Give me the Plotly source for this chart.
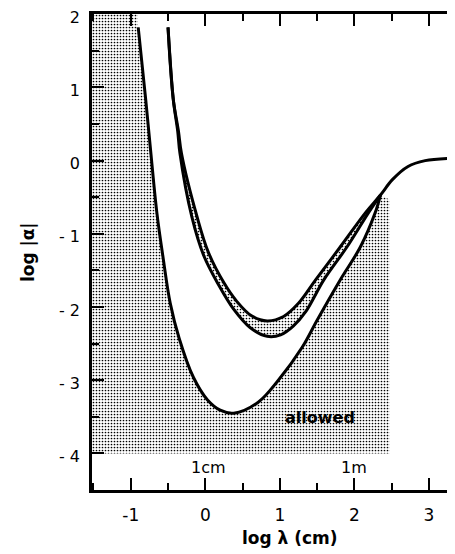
import plotly.graph_objects as go

# ---- data (log lambda [cm], log |alpha|) ----
outer_x = [-0.90, -0.80, -0.73, -0.65, -0.57, -0.47, -0.35, -0.16, 0.03, 0.20, 0.38, 0.71, 0.98, 1.30, 1.50, 1.81, 2.08, 2.28, 2.35]
outer_y = [1.82, 0.84, 0.10, -0.71, -1.30, -1.95, -2.43, -2.96, -3.27, -3.41, -3.45, -3.30, -3.00, -2.55, -2.18, -1.63, -1.18, -0.71, -0.47]

lower_x = [-0.50, -0.43, -0.37, -0.34, -0.18, -0.02, 0.18, 0.38, 0.60, 0.83, 1.01, 1.18, 1.35, 1.59, 1.90, 2.19, 2.35]
lower_y = [1.82, 0.84, 0.40, 0.10, -0.77, -1.30, -1.70, -2.03, -2.28, -2.40, -2.38, -2.26, -2.06, -1.63, -1.18, -0.71, -0.47]

upper_x = [-0.50, -0.43, -0.36, -0.32, -0.11, 0.04, 0.25, 0.42, 0.62, 0.83, 1.05, 1.25, 1.48, 1.81, 2.15, 2.35]
upper_y = [1.82, 0.84, 0.40, 0.10, -0.77, -1.25, -1.67, -1.92, -2.12, -2.19, -2.13, -1.95, -1.63, -1.18, -0.71, -0.47]

tail_x = [2.35, 2.51, 2.72, 2.95, 3.25]
tail_y = [-0.47, -0.26, -0.08, 0.00, 0.03]

allowed_floor = -4.0      # lower edge of the shaded "allowed" region
allowed_right = 2.47      # right edge of the shaded region
allowed_right_top = -0.53
allowed_top_x = -0.91     # where the shaded region's left boundary meets the top axis

x_ticks = [-1, 0, 1, 2, 3]
x_ticktext = ["-1", "0", "1", "2", "3"]
y_ticks = [-4, -3, -2, -1, 0, 1, 2]
y_ticktext = ["- 4", "- 3", "- 2", "- 1", "0", "1", "2"]

x_range = [-1.52, 3.35]
y_range = [-4.5, 2.003]

FONT = "DejaVu Sans"
pattern = dict(shape=".", size=3, solidity=0.25, fgcolor="black", bgcolor="white", fillmode="replace")

fig = go.Figure()

top_y = y_range[1]
# boundary of the shaded area (left / bottom / right part), invisible
base_x = [allowed_top_x, x_range[0] - 0.1, x_range[0] - 0.1, allowed_right, allowed_right]
base_y = [top_y, top_y, allowed_floor, allowed_floor, allowed_right_top]
fig.add_trace(go.Scatter(x=base_x, y=base_y, mode="lines", line=dict(width=0), hoverinfo="skip"))
fig.add_trace(go.Scatter(x=[allowed_top_x] + outer_x, y=[top_y] + outer_y, mode="lines",
                         line=dict(width=0, shape="spline"), fill="tonexty",
                         fillcolor="rgba(0,0,0,0)", fillpattern=pattern, hoverinfo="skip"))

# band between the two inner curves
fig.add_trace(go.Scatter(x=lower_x, y=lower_y, mode="lines", line=dict(width=0, shape="spline"), hoverinfo="skip"))
fig.add_trace(go.Scatter(x=upper_x, y=upper_y, mode="lines", line=dict(width=0, shape="spline"),
                         fill="tonexty", fillcolor="rgba(0,0,0,0)", fillpattern=pattern, hoverinfo="skip"))

# black curves
line = dict(color="black", width=3, shape="spline")
fig.add_trace(go.Scatter(x=outer_x, y=outer_y, mode="lines", line=line))
fig.add_trace(go.Scatter(x=lower_x, y=lower_y, mode="lines", line=line))
fig.add_trace(go.Scatter(x=upper_x + tail_x[1:], y=upper_y + tail_y[1:], mode="lines", line=line))

# invisible trace for right-hand ticks
fig.add_trace(go.Scatter(x=[x_range[1]], y=[0], yaxis="y2", mode="markers", marker=dict(opacity=0), hoverinfo="skip"))

# the page body has an 8px margin, so the figure is sized to end at the window edge
fig.update_layout(
    width=447, height=546,
    margin=dict(l=84, r=0, t=6, b=64, autoexpand=False),
    paper_bgcolor="white", plot_bgcolor="white",
    showlegend=False,
    font=dict(family=FONT, size=17, color="black"),
    xaxis=dict(range=x_range, showgrid=False, zeroline=False, showline=True, linewidth=2.5, linecolor="black",
               mirror="ticks", ticks="inside", ticklen=12, tickwidth=2, tickcolor="black", automargin=False,
               tickvals=x_ticks, ticktext=x_ticktext, ticklabelstandoff=8, ticklabeloverflow="allow",
               minor=dict(ticks="inside", ticklen=7, tickwidth=2, dtick=0.5, tick0=0, tickcolor="black", showgrid=False)),
    yaxis=dict(range=y_range, showgrid=False, zeroline=False, showline=True, linewidth=2.5, linecolor="black",
               ticks="inside", ticklen=12, tickwidth=2, tickcolor="black", automargin=False,
               tickvals=y_ticks, ticktext=y_ticktext, ticklabelstandoff=6, ticklabeloverflow="allow",
               ticklabelshift=3, tickfont=dict(size=16),
               minor=dict(ticks="inside", ticklen=7, tickwidth=2, dtick=0.5, tick0=0, tickcolor="black", showgrid=False)),
    yaxis2=dict(range=y_range, overlaying="y", side="right", showgrid=False, zeroline=False, showline=False,
                ticks="inside", ticklen=3, tickwidth=2, tickcolor="black", tickvals=y_ticks,
                showticklabels=False, automargin=False),
)

fig.add_annotation(text="allowed", x=1.54, y=-3.51, xref="x", yref="y", showarrow=False,
                   font=dict(family=FONT, size=16, color="black", weight="bold"))
fig.add_annotation(text="1cm", x=0.04, y=-4.19, xref="x", yref="y", showarrow=False,
                   font=dict(family=FONT, size=16, color="black"))
fig.add_annotation(text="1m", x=2.0, y=-4.19, xref="x", yref="y", showarrow=False,
                   font=dict(family=FONT, size=16, color="black"))
fig.add_annotation(text="log λ (cm)", x=1.14, y=-0.10, xref="x", yref="paper", showarrow=False,
                   xanchor="center", yanchor="middle", font=dict(family=FONT, size=17, color="black", weight="bold"))
fig.add_annotation(text="log |α|", x=-0.176, y=0.5, xref="paper", yref="paper", showarrow=False,
                   textangle=-90, xanchor="center", yanchor="middle",
                   font=dict(family=FONT, size=17, color="black", weight="bold"))

fig.write_html("out.html")
